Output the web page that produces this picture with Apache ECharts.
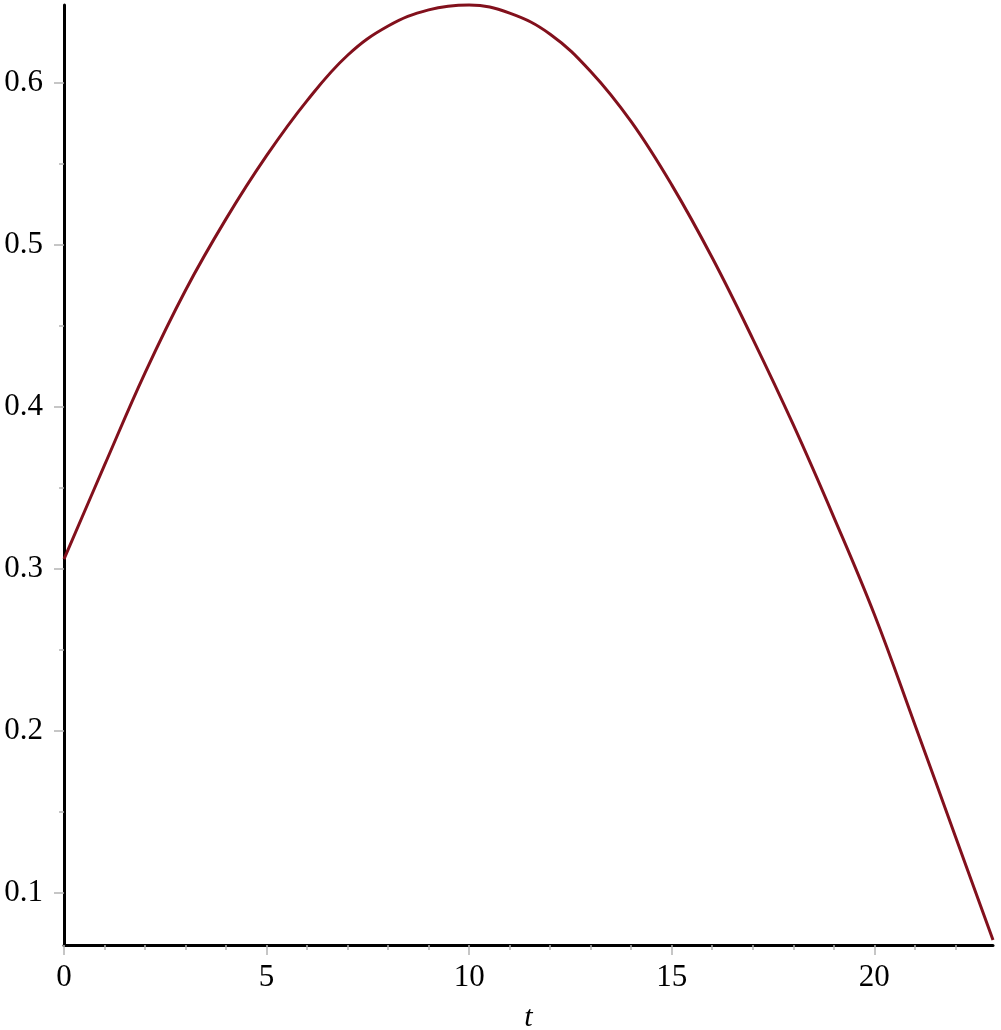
<!DOCTYPE html>
<html>
<head>
<meta charset="utf-8">
<script src="https://cdn.jsdelivr.net/npm/echarts@6/dist/echarts.min.js"></script>
<style>
html,body{margin:0;padding:0;background:#fff;}
#chart{width:1001px;height:1030px;}
</style>
</head>
<body>
<div id="chart"></div>
<script>
// Data
const tValues = [0, 1, 2, 3, 4, 5, 6, 7, 8, 9, 10, 11, 12, 13, 14, 15, 16, 17, 18, 19, 20, 21, 22, 22.93];
const yValues = [0.306, 0.364, 0.421, 0.472, 0.516, 0.555, 0.589, 0.617, 0.635, 0.645, 0.648, 0.643, 0.630, 0.607, 0.576, 0.537, 0.492, 0.442, 0.389, 0.332, 0.272, 0.204, 0.135, 0.071];
const xMajorTicks = [0, 5, 10, 15, 20];
const xMinorTicks = [1, 2, 3, 4, 6, 7, 8, 9, 11, 12, 13, 14, 16, 17, 18, 19, 21, 22];
const yMajorTicks = [0.1, 0.2, 0.3, 0.4, 0.5, 0.6];
const yMinorTicks = [0.15, 0.25, 0.35, 0.45, 0.55];
const xName = 't';

const X_MIN = 0, X_MAX = 22.93, Y_MIN = 0.0679, Y_MAX = 0.648;
const FONT = 'Liberation Serif';
const TICK_COLOR = '#b4b4b4';

const chart = echarts.init(document.getElementById('chart'), null, {renderer: 'canvas'});
const seriesData = tValues.map((t, i) => [t, yValues[i]]);

chart.setOption({
  animation: false,
  backgroundColor: '#ffffff',
  grid: {left: 64, right: 8, top: 5, bottom: 85, containLabel: false, outerBoundsMode: 'none'},
  xAxis: [{
    type: 'value', min: X_MIN, max: X_MAX,
    name: xName, nameLocation: 'middle', nameGap: 58,
    nameTextStyle: {fontFamily: FONT, fontStyle: 'italic', fontSize: 30, color: '#000'},
    axisLine: {show: true, onZero: false, lineStyle: {color: '#000', width: 3}},
    axisTick: {show: true, inside: false, length: 10, customValues: xMajorTicks, lineStyle: {color: TICK_COLOR, width: 1.5}},
    axisLabel: {show: true, margin: 17, customValues: xMajorTicks, fontFamily: FONT, fontSize: 31, color: '#000', formatter: v => String(v)},
    splitLine: {show: false}
  }, {
    type: 'value', min: X_MIN, max: X_MAX, position: 'bottom',
    axisLine: {show: false, onZero: false},
    axisTick: {show: true, inside: false, length: 5, customValues: xMinorTicks, lineStyle: {color: TICK_COLOR, width: 1.5}},
    axisLabel: {show: false},
    splitLine: {show: false}
  }],
  yAxis: [{
    type: 'value', min: Y_MIN, max: Y_MAX,
    axisLine: {show: true, onZero: false, lineStyle: {color: '#000', width: 3}},
    axisTick: {show: true, inside: false, length: 10, customValues: yMajorTicks, lineStyle: {color: TICK_COLOR, width: 1.5}},
    axisLabel: {show: true, margin: 21, customValues: yMajorTicks, fontFamily: FONT, fontSize: 31, color: '#000', formatter: v => v.toFixed(1)},
    splitLine: {show: false}
  }, {
    type: 'value', min: Y_MIN, max: Y_MAX, position: 'left',
    axisLine: {show: false, onZero: false},
    axisTick: {show: true, inside: false, length: 5, customValues: yMinorTicks, lineStyle: {color: TICK_COLOR, width: 1.5}},
    axisLabel: {show: false},
    splitLine: {show: false}
  }],
  series: [{
    type: 'line',
    xAxisIndex: 0, yAxisIndex: 0,
    data: seriesData,
    smooth: 0.4,
    showSymbol: false,
    clip: false,
    lineStyle: {color: '#82101c', width: 3}
  }]
});
</script>
</body>
</html>
